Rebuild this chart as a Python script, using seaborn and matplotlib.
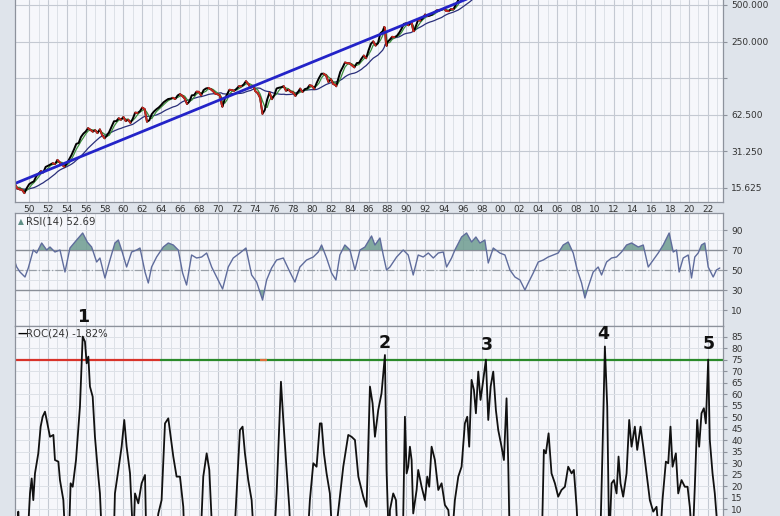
import numpy as np
import pandas as pd
import matplotlib
matplotlib.use("Agg")
import matplotlib.pyplot as plt
import seaborn as sns

# ---- price panel (log scale), quarterly closes ----
price_years = [
    1946.75, 1947.0, 1947.25, 1947.5, 1947.75, 1948.0, 1948.25, 1948.5, 1948.75,
    1949.0, 1949.25, 1949.5, 1949.75, 1950.0, 1950.25, 1950.5, 1950.75,
    1951.0, 1951.25, 1951.5, 1951.75, 1952.0, 1952.25, 1952.5, 1952.75,
    1953.0, 1953.25, 1953.5, 1953.75, 1954.0, 1954.25, 1954.5, 1954.75,
    1955.0, 1955.25, 1955.5, 1955.75, 1956.0, 1956.25, 1956.5, 1956.75,
    1957.0, 1957.25, 1957.5, 1957.75, 1958.0, 1958.25, 1958.5, 1958.75,
    1959.0, 1959.25, 1959.5, 1959.75, 1960.0, 1960.25, 1960.5, 1960.75,
    1961.0, 1961.25, 1961.5, 1961.75, 1962.0, 1962.25, 1962.5, 1962.75,
    1963.0, 1963.25, 1963.5, 1963.75, 1964.0, 1964.25, 1964.5, 1964.75,
    1965.0, 1965.25, 1965.5, 1965.75, 1966.0, 1966.25, 1966.5, 1966.75,
    1967.0, 1967.25, 1967.5, 1967.75, 1968.0, 1968.25, 1968.5, 1968.75,
    1969.0, 1969.25, 1969.5, 1969.75, 1970.0, 1970.25, 1970.42, 1970.5, 1970.75,
    1971.0, 1971.25, 1971.5, 1971.75, 1972.0, 1972.25, 1972.5, 1972.75,
    1973.0, 1973.25, 1973.5, 1973.75, 1974.0, 1974.25, 1974.5, 1974.75,
    1975.0, 1975.25, 1975.5, 1975.75, 1976.0, 1976.25, 1976.5, 1976.75,
    1977.0, 1977.25, 1977.5, 1977.75, 1978.0, 1978.25, 1978.5, 1978.75,
    1979.0, 1979.25, 1979.5, 1979.75, 1980.0, 1980.25, 1980.5, 1980.75,
    1981.0, 1981.25, 1981.5, 1981.75, 1982.0, 1982.25, 1982.5, 1982.58, 1982.75,
    1983.0, 1983.25, 1983.5, 1983.75, 1984.0, 1984.25, 1984.5, 1984.75,
    1985.0, 1985.25, 1985.5, 1985.75, 1986.0, 1986.25, 1986.5, 1986.75,
    1987.0, 1987.25, 1987.5, 1987.67, 1987.75, 1987.83, 1987.92,
    1988.0, 1988.25, 1988.5, 1988.75, 1989.0, 1989.25, 1989.5, 1989.75,
    1990.0, 1990.25, 1990.5, 1990.58, 1990.75, 1990.83,
    1991.0, 1991.25, 1991.5, 1991.75, 1992.0, 1992.25, 1992.5, 1992.75,
    1993.0, 1993.25, 1993.5, 1993.75, 1994.0, 1994.25, 1994.5, 1994.75,
    1995.0, 1995.25, 1995.5, 1995.75, 1996.0, 1996.25, 1996.5, 1996.75,
    1997.0, 1997.25, 1997.5, 1997.75, 1998.0,
]
price_vals = [
    14.96, 15.30, 15.17, 15.21, 15.11, 15.30, 15.08, 16.74, 15.49,
    15.20, 15.06, 14.16, 15.58, 16.76, 17.29, 17.69, 19.45,
    20.41, 21.48, 20.96, 23.26, 23.77, 24.37, 24.96, 24.54,
    26.57, 25.29, 24.14, 23.35, 24.81, 26.94, 29.21, 32.31,
    35.98, 36.58, 41.03, 43.67, 45.48, 48.48, 46.97, 45.35,
    46.67, 44.11, 47.37, 42.42, 39.99, 42.10, 45.24, 50.06,
    55.21, 55.44, 58.47, 56.88, 59.89, 55.34, 56.92, 53.52,
    58.11, 65.06, 64.64, 66.73, 71.55, 69.55, 54.75, 56.27,
    63.10, 66.57, 69.37, 71.70, 75.02, 78.98, 81.69, 84.18,
    84.75, 86.16, 84.12, 89.96, 92.43, 89.23, 84.74, 76.56,
    80.33, 90.20, 90.64, 96.71, 96.47, 90.20, 99.58, 102.67,
    103.86, 101.51, 97.71, 93.12, 92.06, 89.63, 76.55, 72.72, 84.21,
    92.15, 100.31, 99.70, 98.34, 102.09, 107.20, 107.14, 110.55,
    118.05, 111.52, 104.26, 108.43, 97.55, 93.98, 86.00, 63.54,
    68.56, 83.36, 95.19, 83.87, 90.19, 102.77, 104.28, 105.24,
    107.46, 98.42, 100.48, 96.53, 95.10, 89.21, 95.53, 102.54,
    96.11, 101.59, 102.91, 109.32, 107.94, 102.09, 114.24, 125.46,
    135.76, 136.00, 131.21, 116.18, 122.55, 111.96, 109.61, 107.09, 120.42,
    140.64, 152.96, 168.11, 166.07, 164.93, 159.18, 153.18, 166.10,
    167.24, 180.66, 191.85, 182.08, 211.28, 238.90, 250.84, 231.32,
    242.17, 291.70, 304.00, 329.80, 321.83, 251.79, 230.30,
    247.08, 258.89, 273.50, 271.91, 277.72, 294.87, 317.98, 349.15,
    353.40, 339.94, 358.02, 356.15, 306.05, 304.00,
    330.22, 375.22, 371.16, 387.86, 417.09, 403.69, 408.14, 417.80,
    435.71, 451.67, 450.53, 458.93, 466.45, 445.77, 444.27, 462.69,
    459.27, 500.71, 544.75, 584.41, 615.93, 645.50, 670.63, 687.33,
    740.74, 757.12, 885.14, 947.28, 970.43,
]

# long-term trend line drawn on the price panel
trend_years = [1948.5, 1997.0]
trend_vals = [17.0, 583.0]

# ---- RSI(14) ----
rsi_years = [
    1948.5, 1948.68, 1949.03, 1949.56, 1949.91, 1950.44, 1950.80, 1951.33, 1951.86,
    1952.21, 1952.74, 1953.27, 1953.80, 1954.33, 1955.04, 1955.68, 1956.17, 1956.63,
    1957.16, 1957.51, 1958.04, 1958.57, 1959.10, 1959.46, 1959.81, 1960.34, 1960.87,
    1961.40, 1961.76, 1962.29, 1962.64, 1962.99, 1963.52, 1964.23, 1964.76, 1965.29,
    1965.82, 1966.28, 1966.70, 1967.23, 1967.76, 1968.30, 1968.83, 1969.36, 1969.89,
    1970.52, 1971.12, 1971.65, 1972.36, 1973.00, 1973.60, 1974.13, 1974.76, 1975.19,
    1975.72, 1976.25, 1976.96, 1977.66, 1978.19, 1978.72, 1979.43, 1980.14, 1980.67,
    1981.02, 1981.55, 1982.08, 1982.54, 1982.96, 1983.49, 1984.03, 1984.56, 1985.09,
    1985.62, 1986.32, 1986.68, 1987.21, 1987.56, 1987.91,
    1988.27, 1988.98, 1989.68, 1990.21, 1990.74, 1991.27, 1991.80, 1992.34, 1992.87,
    1993.40, 1993.93, 1994.28, 1994.81, 1995.16, 1995.87, 1996.40, 1996.93, 1997.39,
    1997.81, 1998.34, 1998.70, 1999.23, 1999.93, 2000.47, 2001.00, 2001.53, 2002.06,
    2002.59, 2002.94, 2003.47, 2004.00, 2004.53, 2005.06, 2005.59, 2006.12, 2006.65,
    2007.18, 2007.71, 2008.14, 2008.60, 2008.95, 2009.30, 2009.83, 2010.36, 2010.72,
    2011.25, 2011.78, 2012.31, 2012.84, 2013.37, 2013.90, 2014.61, 2015.14, 2015.67,
    2016.20, 2016.73, 2017.26, 2017.89, 2018.32, 2018.67, 2018.95, 2019.38, 2019.91,
    2020.26, 2020.61, 2020.97, 2021.32, 2021.67, 2022.03, 2022.56, 2022.91, 2023.26,
]
rsi_vals = [
    58, 53, 48, 43, 52, 70, 67, 77, 70,
    73, 68, 70, 48, 72, 80, 87, 78, 73,
    58, 62, 42, 60, 77, 80, 70, 53, 68,
    70, 72, 48, 37, 53, 63, 73, 77, 75,
    70, 47, 35, 65, 62, 63, 67, 53, 43,
    31, 53, 62, 67, 72, 45, 38, 20, 40,
    52, 60, 62, 48, 38, 53, 60, 63, 68,
    75, 62, 47, 40, 65, 75, 70, 50, 70,
    73, 84, 75, 82, 65, 50,
    53, 63, 70, 65, 45, 65, 63, 67, 62,
    67, 68, 53, 62, 70, 83, 87, 78, 83,
    77, 80, 57, 72, 67, 65, 50, 43, 40,
    30, 37, 47, 58, 60, 63, 65, 67, 75,
    78, 67, 50, 37, 22, 33, 48, 53, 45,
    58, 62, 63, 68, 75, 77, 73, 75, 53,
    60, 67, 75, 87, 68, 70, 48, 62, 65,
    42, 63, 67, 75, 77, 53, 43, 50, 52,
]

# ---- ROC(24) ----  (-10 / -5 = below the visible part of the panel)
roc_years = [
    1948.55, 1948.85, 1949.10, 1949.74, 1950.09, 1950.27, 1950.44, 1950.62, 1950.97,
    1951.22, 1951.43, 1951.68, 1951.86, 1952.21, 1952.57, 1952.74, 1953.10, 1953.27,
    1953.63, 1953.91, 1954.16, 1954.40, 1954.62, 1954.97, 1955.39, 1955.68, 1955.92,
    1956.10, 1956.28, 1956.45, 1956.74, 1956.98, 1957.34, 1957.51, 1957.80, 1958.93,
    1959.10, 1959.46, 1959.81, 1960.09, 1960.34, 1960.70, 1961.05, 1961.23, 1961.58,
    1961.93, 1962.29, 1962.46, 1963.17, 1963.70, 1964.05, 1964.41, 1964.76, 1965.01,
    1965.29, 1965.64, 1966.00, 1966.35, 1966.53, 1968.12, 1968.47, 1968.83, 1969.11,
    1969.53, 1971.65, 1972.08, 1972.36, 1972.64, 1972.89, 1973.24, 1973.60, 1973.95,
    1975.90, 1976.25, 1976.71, 1976.96, 1977.24, 1977.59, 1977.84, 1979.43, 1979.78,
    1980.14, 1980.49, 1980.84, 1981.02, 1981.27, 1981.55, 1981.90, 1982.26, 1982.96,
    1983.32, 1983.85, 1984.20, 1984.56, 1984.92, 1985.44, 1985.79, 1986.15, 1986.43,
    1986.68, 1987.03, 1987.38, 1987.74, 1987.91, 1988.20,
    1988.27, 1988.62, 1988.91, 1989.15, 1989.61, 1989.86, 1990.04, 1990.21, 1990.39,
    1990.57, 1990.74, 1991.10, 1991.27, 1991.63, 1991.98, 1992.23, 1992.44, 1992.69,
    1993.04, 1993.40, 1993.75, 1994.10, 1994.46, 1994.81, 1995.16, 1995.52, 1995.87,
    1996.22, 1996.47, 1996.68, 1996.93, 1997.18, 1997.39, 1997.64, 1997.88, 1998.17,
    1998.45, 1998.70, 1998.95, 1999.23, 1999.51, 1999.76, 2000.11, 2000.36, 2000.64,
    2000.82, 2001.00, 2004.35, 2004.60, 2004.81, 2005.10, 2005.41, 2005.77, 2006.12,
    2006.47, 2006.83, 2007.18, 2007.54, 2007.78, 2008.07, 2008.35, 2010.54, 2010.82,
    2011.07, 2011.32, 2011.53, 2011.78, 2012.03, 2012.31, 2012.52, 2012.73, 2013.01,
    2013.37, 2013.65, 2013.90, 2014.25, 2014.50, 2014.85, 2015.14, 2015.49, 2015.84,
    2016.20, 2016.55, 2016.90, 2017.18, 2017.54, 2017.79, 2018.03, 2018.25, 2018.60,
    2018.85, 2019.20, 2019.55, 2019.84, 2020.08, 2020.37, 2020.61, 2020.86, 2021.07,
    2021.32, 2021.57, 2021.78, 2022.03, 2022.20, 2022.49, 2022.73, 2023.09, 2023.61,
]
roc_vals = [
    -5, 9, -10, -10, 16.9, 23.4, 14, 25.6, 34.3,
    45.9, 50.2, 52.4, 48.8, 41.5, 42.3, 31.4, 30.7, 22.7,
    14, -10, -10, 21.3, 19.8, 31.4, 54.6, 85, 82.8,
    73.4, 76.3, 63.3, 58.9, 41.5, 24.2, 16.9, -10, -10,
    16.9, 27.0, 37.2, 48.8, 37.2, 25.6, -5, 16.9, 12.6,
    21.3, 24.9, -10, -10, 8.1, 14, 47.3, 49.5, 41.5,
    32.9, 24.2, 24.2, 11.1, -10, -10, 24.2, 34.3, 27.1,
    -10, -10, 22.7, 44.4, 45.9, 34.3, 22.7, 14, -10,
    -10, 16.9, 65.4, 48.8, 31.4, 11.1, -10, -10, 14,
    30, 28.5, 47.3, 47.3, 34.3, 25.6, 16.9, -10, 15.5,
    28.5, 42.3, 41.5, 40.1, 24.2, 15.5, 11.1, 63.3, 56.0,
    41.5, 53.1, 60.4, 77.0, 27.1, -10,
    9.7, 16.9, 14, -10, -10, 50.2, 25.6, 28.5, 37.2,
    31.4, 8.2, 18.4, 27.1, 19.8, 14, 24.2, 19.8, 37.2,
    31.4, 18.4, 21.3, 11.9, 9.7, -5, 14, 24.2, 28.5,
    47.3, 50.2, 37.2, 66.2, 61.8, 51.7, 69.8, 57.5, 66.2,
    75.0, 48.8, 63.3, 69.8, 53.1, 44.4, 37.2, 31.4, 58.2,
    30, -10, -10, 35.8, 34.3, 43, 25.6, 21.3, 15.5,
    18.4, 19.8, 28.5, 25.6, 27.1, 11.1, -10, -10, 35.8,
    80.7, 54.6, -5, 21.3, 22.7, 16.9, 32.9, 21.3, 15.5,
    25.6, 48.8, 37.2, 45.9, 35.8, 45.9, 37.2, 25.6, 14,
    9, 11.1, -5, 14, 30.7, 30, 45.9, 28.5, 34.3,
    16.9, 22.7, 19.8, 19.8, 11.1, -5, 19.8, 48.8, 37.2,
    51.7, 53.9, 47.3, 75.0, 40.1, 25.6, 16.9, -2, -1.82,
]

# numbered peak labels (label centre, in ROC units)
peak_labels = ['1', '2', '3', '4', '5']
peak_years = [1955.7, 1987.7, 1998.55, 2010.85, 2022.1]
peak_label_vals = [93.6, 82.3, 81.4, 86.2, 81.8]

# 75% reference line segments
roc_level = 75
level_starts = [1948.5, 1963.9, 1974.5]
level_ends = [1963.9, 2023.6, 1975.2]
level_colors = ['#d8332a', '#2b8a2b', '#e0703a']

year_ticks = list(range(1950, 2023, 2))
price_ticks = [15.625, 31.25, 62.5, 125, 250, 500]
price_tick_labels = ['15.625', '31.250', '62.500', '', '250.000', '500.000']
rsi_ticks = [10, 30, 50, 70, 90]
roc_ticks = list(range(10, 90, 5))

# ---------------------------------------------------------------
sns.set_style("white")
plt.rcParams['font.family'] = ['DejaVu Sans']

XMIN, XMAX = 1948.5, 2023.6
BG = '#dfe4eb'
PANEL = '#f6f7fb'
GRID_MAJ = '#c4c9d2'
GRID_MIN = '#dde1e7'
SPINE = '#8d929c'
TXT = '#333333'

fig = plt.figure(figsize=(7.8, 5.16), dpi=100)
fig.patch.set_facecolor(BG)

L, W = 15 / 780, 708 / 780
ax_p = fig.add_axes([L, 1 - 202 / 516, W, 202 / 516])
ax_r = fig.add_axes([L, 1 - 326 / 516, W, 113 / 516])
ax_c = fig.add_axes([L, 0, W, 190 / 516])

for ax in (ax_p, ax_r, ax_c):
    ax.set_facecolor(PANEL)
    ax.set_xlim(XMIN, XMAX)
    ax.set_xticks(year_ticks)
    ax.set_xticks([y + 1 for y in year_ticks], minor=True)
    ax.grid(which='major', axis='x', color=GRID_MAJ, lw=0.8, zorder=0)
    ax.grid(which='minor', axis='x', color=GRID_MIN, lw=0.7, zorder=0)
    ax.yaxis.tick_right()
    ax.tick_params(axis='x', which='both', length=0)
    ax.tick_params(axis='y', which='major', length=3, color=SPINE, labelsize=6.5,
                   labelcolor=TXT, pad=3)
    ax.tick_params(axis='y', which='minor', length=0)
    for s in ax.spines.values():
        s.set_color(SPINE)
        s.set_linewidth(0.9)
    ax.set_axisbelow(True)

# ---- price panel ----
df_p = pd.DataFrame({'year': price_years, 'price': price_vals})
df_p['ma_short'] = df_p['price'].rolling(3, min_periods=1).mean()
df_p['ma_long'] = df_p['price'].rolling(14, min_periods=1).mean()

ax_p.set_yscale('log')
ax_p.set_ylim(11.97, 549)
ax_p.set_yticks(price_ticks)
ax_p.set_yticklabels(price_tick_labels)
ax_p.yaxis.set_minor_locator(matplotlib.ticker.NullLocator())
ax_p.grid(which='major', axis='y', color=GRID_MAJ, lw=0.8, zorder=0)
ax_p.set_xticklabels([f"{y % 100:02d}" for y in year_ticks])
ax_p.tick_params(axis='x', labelsize=6.5, labelcolor=TXT, pad=2)
ax_p.spines['top'].set_visible(False)

sns.lineplot(data=df_p, x='year', y='ma_long', ax=ax_p, color='#2a2f7a', lw=0.9, sort=False)
sns.lineplot(data=df_p, x='year', y='ma_short', ax=ax_p, color='#3c8f3c', lw=0.9, sort=False)
sns.lineplot(data=df_p, x='year', y='price', ax=ax_p, color='black', lw=1.4, sort=False)

# falling stretches in red
down = []
for i in range(len(price_vals) - 1):
    if price_vals[i + 1] < price_vals[i]:
        down.append({'seg': i, 'year': price_years[i], 'price': price_vals[i]})
        down.append({'seg': i, 'year': price_years[i + 1], 'price': price_vals[i + 1]})
df_down = pd.DataFrame(down)
sns.lineplot(data=df_down, x='year', y='price', units='seg', estimator=None,
             ax=ax_p, color='#c8271f', lw=1.3, sort=False)

sns.lineplot(x=trend_years, y=trend_vals, ax=ax_p, color='#2323c8', lw=2.0)
ax_p.set_xlabel('')
ax_p.set_ylabel('')

# ---- RSI panel ----
rsi_y = np.array(rsi_vals, dtype=float)
ax_r.set_ylim(-6, 107)
ax_r.set_yticks(rsi_ticks)
ax_r.set_yticks([20, 40, 60, 80], minor=True)
ax_r.grid(which='both', axis='y', color=GRID_MIN, lw=0.7, zorder=0)
ax_r.set_xticklabels([])
ax_r.axhline(70, color='#8a8f98', lw=1.0, zorder=1)
ax_r.axhline(30, color='#8a8f98', lw=1.0, zorder=1)
ax_r.axhline(50, color='#9aa0a8', lw=0.9, ls='-.', zorder=1)
ax_r.fill_between(rsi_years, rsi_y, 70, where=rsi_y > 70, interpolate=True,
                  color='#6e9c90', alpha=0.85, zorder=2, lw=0)
ax_r.fill_between(rsi_years, rsi_y, 30, where=rsi_y < 30, interpolate=True,
                  color='#6e9c90', alpha=0.85, zorder=2, lw=0)
sns.lineplot(x=rsi_years, y=rsi_vals, ax=ax_r, color='#5f6c9c', lw=1.0, sort=False)
ax_r.set_xlabel('')
ax_r.set_ylabel('')
ax_r.text(0.004, 0.965, '\u25B2', transform=ax_r.transAxes, fontsize=5.5,
          color='#5f8f86', va='top', ha='left')
ax_r.text(0.016, 0.97, 'RSI(14) 52.69', transform=ax_r.transAxes, fontsize=7.3,
          color=TXT, va='top', ha='left')

# ---- ROC panel ----
ax_c.set_ylim(7.1, 89.6)
ax_c.set_yticks(roc_ticks)
ax_c.grid(which='major', axis='y', color=GRID_MIN, lw=0.7, zorder=0)
ax_c.set_xticklabels([])
ax_c.spines['bottom'].set_visible(False)
for x0, x1, c in zip(level_starts, level_ends, level_colors):
    ax_c.hlines(roc_level, x0, x1, color=c, lw=1.6, zorder=2)
sns.lineplot(x=roc_years, y=roc_vals, ax=ax_c, color='#111111', lw=1.3, sort=False)
ax_c.set_xlabel('')
ax_c.set_ylabel('')
ax_c.text(0.004, 0.985, '\u2014', transform=ax_c.transAxes, fontsize=7,
          color='black', va='top', ha='left', fontweight='bold')
ax_c.text(0.016, 0.985, 'ROC(24) -1.82%', transform=ax_c.transAxes, fontsize=7.3,
          color=TXT, va='top', ha='left')

for lab, px, pv in zip(peak_labels, peak_years, peak_label_vals):
    ax_c.text(px, pv, lab, ha='center', va='center', fontsize=12.5,
              fontweight='bold', color='#111111', clip_on=False, zorder=5)

fig.savefig('out.png', dpi=100, facecolor=fig.get_facecolor())
